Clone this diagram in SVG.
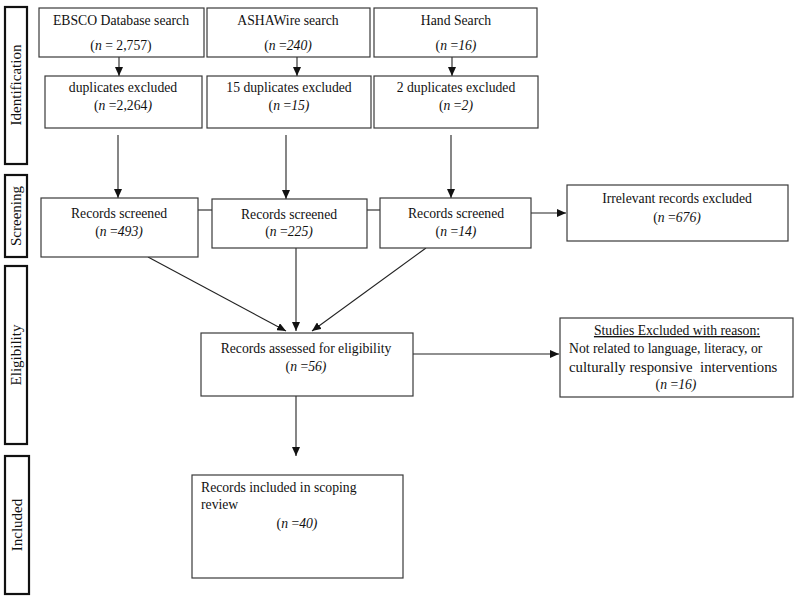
<svg xmlns="http://www.w3.org/2000/svg" width="800" height="601" viewBox="0 0 800 601">
<style>
text{font-family:"Liberation Serif","Times New Roman",serif;font-size:13.7px;fill:#111}
.c{text-anchor:middle}
.i{font-style:italic}
.box{fill:#fff;stroke:#3a3a3a;stroke-width:1.2}
.side{fill:#fff;stroke:#111;stroke-width:2.2}
.sl{font-size:15px;text-anchor:middle}
.ln{stroke:#222;stroke-width:1.1;fill:none}
</style>
<defs>
<marker id="ah" markerUnits="userSpaceOnUse" markerWidth="10" markerHeight="8" refX="9" refY="4" orient="auto">
<path d="M0,0 L9,4 L0,8 z" fill="#111"/>
</marker>
</defs>
<rect width="800" height="601" fill="#fff"/>

<g id="side-identification"><rect class="side" x="5" y="7" width="22" height="157"/><text class="sl" transform="translate(21,85) rotate(-90)">Identification</text></g>
<g id="side-screening"><rect class="side" x="5" y="175" width="22" height="82"/><text class="sl" transform="translate(21,216) rotate(-90)">Screening</text></g>
<g id="side-eligibility"><rect class="side" x="5" y="266" width="22" height="178"/><text class="sl" transform="translate(21,355) rotate(-90)">Eligibility</text></g>
<g id="side-included"><rect class="side" x="5" y="456" width="24" height="138"/><text class="sl" transform="translate(22,525) rotate(-90)">Included</text></g>

<g id="connectors">
<line class="ln" x1="119" y1="57" x2="119" y2="76" marker-end="url(#ah)"/>
<line class="ln" x1="297" y1="57" x2="297" y2="76" marker-end="url(#ah)"/>
<line class="ln" x1="452" y1="57" x2="452" y2="76" marker-end="url(#ah)"/>
<line class="ln" x1="118" y1="135" x2="118" y2="198" marker-end="url(#ah)"/>
<line class="ln" x1="286" y1="135" x2="286" y2="199" marker-end="url(#ah)"/>
<line class="ln" x1="451" y1="135" x2="451" y2="198" marker-end="url(#ah)"/>
<line class="ln" x1="198" y1="210" x2="212" y2="210"/>
<line class="ln" x1="367" y1="210" x2="380" y2="210"/>
<line class="ln" x1="531" y1="213" x2="566" y2="213" marker-end="url(#ah)"/>
<line class="ln" x1="148" y1="257" x2="286" y2="331" marker-end="url(#ah)"/>
<line class="ln" x1="296" y1="248" x2="296" y2="331" marker-end="url(#ah)"/>
<line class="ln" x1="426" y1="248" x2="312" y2="331" marker-end="url(#ah)"/>
<line class="ln" x1="413" y1="354" x2="559" y2="354" marker-end="url(#ah)"/>
<line class="ln" x1="296" y1="396" x2="296" y2="456" marker-end="url(#ah)"/>
</g>

<g id="ebsco"><rect class="box" x="39" y="8" width="165" height="49"/>
<text class="c" x="121" y="25">EBSCO Database search</text>
<text class="c" x="121" y="50">(<tspan class="i">n</tspan> = 2,757)</text></g>
<g id="ashawire"><rect class="box" x="207" y="8" width="163" height="49"/>
<text class="c" x="288" y="25">ASHAWire search</text>
<text class="c" x="288" y="50">(<tspan class="i">n</tspan> =<tspan class="i">240)</tspan></text></g>
<g id="hand"><rect class="box" x="374" y="8" width="163" height="49"/>
<text class="c" x="456" y="25">Hand Search</text>
<text class="c" x="456" y="50">(<tspan class="i">n</tspan> =<tspan class="i">16)</tspan></text></g>

<g id="dup-ebsco"><rect class="box" x="45" y="76" width="157" height="52"/>
<text class="c" x="123" y="92">duplicates excluded</text>
<text class="c" x="123" y="110">(<tspan class="i">n</tspan> =2,264<tspan class="i">)</tspan></text></g>
<g id="dup-asha"><rect class="box" x="207" y="76" width="164" height="52"/>
<text class="c" x="289" y="92">15 duplicates excluded</text>
<text class="c" x="289" y="110">(<tspan class="i">n</tspan> =<tspan class="i">15)</tspan></text></g>
<g id="dup-hand"><rect class="box" x="374" y="76" width="164" height="52"/>
<text class="c" x="456" y="92">2 duplicates excluded</text>
<text class="c" x="456" y="110">(<tspan class="i">n</tspan> =<tspan class="i">2)</tspan></text></g>

<g id="screened-1"><rect class="box" x="41" y="198" width="157" height="59"/>
<text class="c" x="119" y="218">Records screened</text>
<text class="c" x="119" y="236">(<tspan class="i">n</tspan> =<tspan class="i">493)</tspan></text></g>
<g id="screened-2"><rect class="box" x="212" y="199" width="155" height="49"/>
<text class="c" x="289" y="219">Records screened</text>
<text class="c" x="289" y="236">(<tspan class="i">n</tspan> =<tspan class="i">225)</tspan></text></g>
<g id="screened-3"><rect class="box" x="380" y="198" width="151" height="50"/>
<text class="c" x="456" y="218">Records screened</text>
<text class="c" x="456" y="236">(<tspan class="i">n</tspan> =<tspan class="i">14)</tspan></text></g>

<g id="irrelevant"><rect class="box" x="567" y="185" width="221" height="56"/>
<text class="c" x="677" y="203">Irrelevant records excluded</text>
<text class="c" x="677" y="222">(<tspan class="i">n</tspan> =<tspan class="i">676)</tspan></text></g>

<g id="eligibility"><rect class="box" x="201" y="333" width="212" height="63"/>
<text class="c" x="306" y="353">Records assessed for eligibility</text>
<text class="c" x="306" y="371">(<tspan class="i">n</tspan> =<tspan class="i">56)</tspan></text></g>

<g id="excluded"><rect class="box" x="560" y="318" width="233" height="79"/>
<text class="c" x="677" y="335" text-decoration="underline">Studies Excluded with reason:</text>
<text x="569" y="353">Not related to language, literacy, or</text>
<text x="569" y="372" style="font-size:14.8px">culturally responsive &#160;interventions</text>
<text class="c" x="676" y="389">(<tspan class="i">n</tspan> =<tspan class="i">16)</tspan></text></g>

<g id="included"><rect class="box" x="192" y="475" width="211" height="103"/>
<text x="201" y="492">Records included in scoping</text>
<text x="201" y="509">review</text>
<text class="c" x="297" y="528">(<tspan class="i">n</tspan> =<tspan class="i">40)</tspan></text></g>
</svg>
